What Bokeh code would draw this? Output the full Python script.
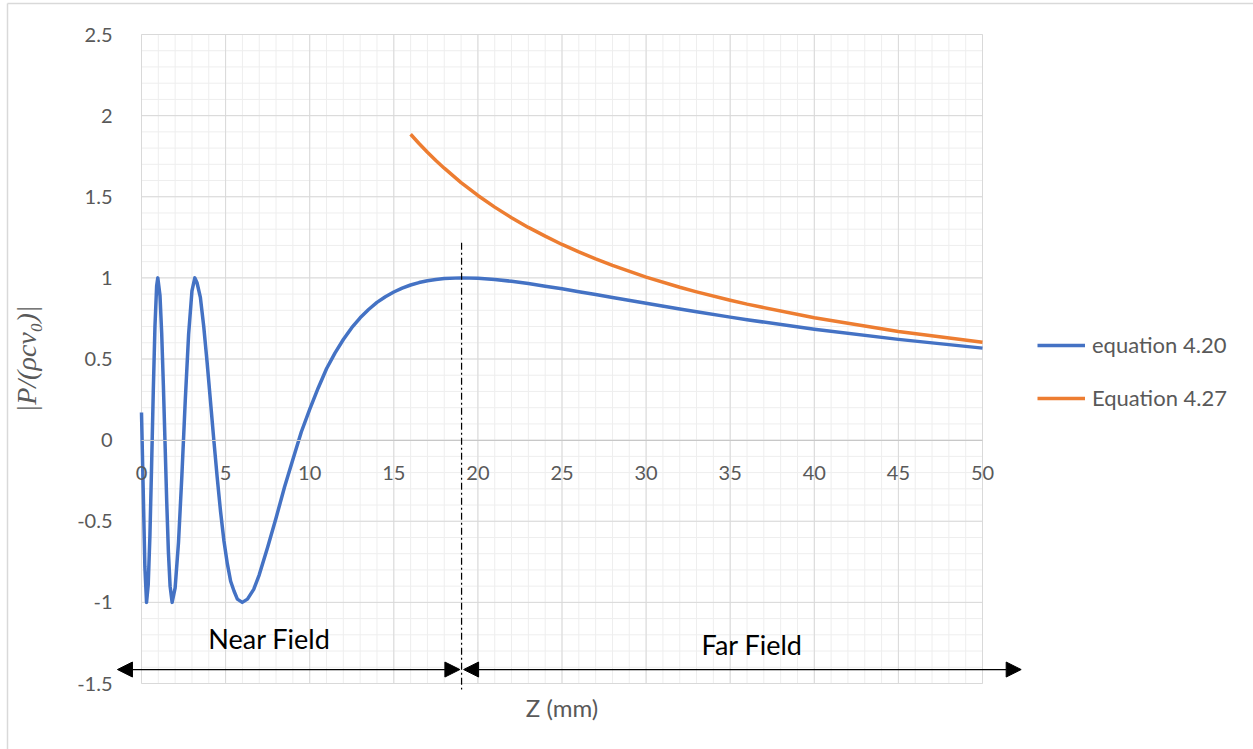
import numpy as np
from bokeh.plotting import figure
from bokeh.models import (SingleIntervalTicker, Legend, LegendItem, Label, Arrow,
                          NormalHead, ColumnDataSource, LinearAxis, Range1d,
                          CustomJSTickFormatter)
from bokeh.embed import file_html
from bokeh.resources import INLINE

# ---- data ----
z_eq420 = [0, 0.1, 0.2, 0.3, 0.4, 0.5, 0.6, 0.7, 0.8, 0.9, 0.97, 1.1, 1.2, 1.3, 1.4, 1.5,
           1.6, 1.7, 1.82, 2.0, 2.2, 2.4, 2.6, 2.8, 3.0, 3.17, 3.3, 3.5, 3.7, 3.9, 4.1,
           4.3, 4.5, 4.7, 4.9, 5.1, 5.3, 5.5, 5.7, 5.99, 6.3, 6.67, 7.0, 7.5, 8.0, 8.5,
           9.0, 9.5, 10, 10.5, 11, 11.5, 12, 12.5, 13, 13.5, 14, 14.5, 15, 15.5, 16,
           16.5, 17, 17.5, 18, 19, 20, 21, 22, 23, 24, 25, 26, 27, 28, 30, 32, 33, 35,
           36, 40, 45, 50]
p_eq420 = [0.17, -0.30, -0.78, -1.0, -0.89, -0.59, -0.16, 0.30, 0.70, 0.95, 1.0, 0.89,
           0.66, 0.34, -0.02, -0.38, -0.69, -0.90, -1.0, -0.91, -0.63, -0.22, 0.24, 0.65,
           0.92, 1.0, 0.97, 0.88, 0.70, 0.48, 0.24, 0.0, -0.23, -0.44, -0.62, -0.76,
           -0.87, -0.93, -0.98, -1.0, -0.98, -0.92, -0.83, -0.66, -0.48, -0.29, -0.12,
           0.05, 0.19, 0.32, 0.44, 0.536, 0.62, 0.693, 0.754, 0.805, 0.849, 0.884, 0.913,
           0.937, 0.956, 0.971, 0.982, 0.990, 0.996, 1.0, 0.997, 0.990, 0.979, 0.965,
           0.949, 0.933, 0.915, 0.897, 0.879, 0.843, 0.808, 0.791, 0.758, 0.742, 0.684,
           0.621, 0.567]

z_eq427 = [16, 16.5, 17, 17.5, 18, 19, 20, 21, 22, 23, 24, 25, 26, 27, 28, 30, 32, 33,
           35, 36, 40, 45, 50]
p_eq427 = [1.885, 1.828, 1.774, 1.723, 1.676, 1.587, 1.508, 1.436, 1.371, 1.311, 1.257,
           1.206, 1.160, 1.117, 1.077, 1.005, 0.942, 0.914, 0.862, 0.838, 0.754, 0.670,
           0.603]

series_names = ["equation 4.20", "Equation 4.27"]
x_title = "Z (mm)"
y_title = "|P/(ρcv₀)|"
near_label = "Near Field"
far_label = "Far Field"

# axis extents and tick steps
x_min, x_max, x_major, x_minor = 0, 50, 5, 1
y_min, y_max, y_major, y_minor = -1.5, 2.5, 0.5, 0.1

# annotation positions (data units)
z_boundary = 19.03
arrow_y = -1.414
near_left = -1.43
far_right = 52.3

FONT = "Lato"
TICK_COLOR = "#595959"
W, H = 1253, 749
# pixel placement of the plotting area inside the canvas
FL, FR, FT, FB = 141, 982, 34, 683
sx = (FR - FL) / (x_max - x_min)
sy = (FB - FT) / (y_max - y_min)
x_lo = x_min - FL / sx
x_hi = x_max + (W - FR) / sx
y_lo = y_min - (H - FB) / sy
y_hi = y_max + FT / sy

p = figure(width=W, height=H,
           x_range=Range1d(x_lo, x_hi), y_range=Range1d(y_lo, y_hi),
           output_backend="svg", toolbar_location=None,
           x_axis_location=None, y_axis_location=None,
           min_border=0)
p.background_fill_color = "white"
p.border_fill_color = "white"
p.outline_line_color = None
p.xgrid.visible = False
p.ygrid.visible = False

# chart-area border (left and top edges visible in the reference)
bx = x_lo + 7 / sx
by = y_hi - 3 / sy
p.segment(x0=[bx, bx], x1=[bx, x_hi], y0=[by, by], y1=[y_lo, by],
          line_color="#d9d9d9", line_width=1.5)

# ---- grid lines, limited to the axis extents ----
xm = np.arange(x_min, x_max + 1e-9, x_minor)
ym = np.arange(y_min, y_max + 1e-9, y_minor)
xM = np.arange(x_min, x_max + 1e-9, x_major)
yM = np.arange(y_min, y_max + 1e-9, y_major)
p.segment(x0=xm, x1=xm, y0=y_min, y1=y_max, line_color="#eeeeee", line_width=1)
p.segment(x0=x_min, x1=x_max, y0=ym, y1=ym, line_color="#eeeeee", line_width=1)
p.segment(x0=xM, x1=xM, y0=y_min, y1=y_max, line_color="#d9d9d9", line_width=1)
p.segment(x0=x_min, x1=x_max, y0=yM, y1=yM, line_color="#d9d9d9", line_width=1)

fmt = CustomJSTickFormatter(code="return String(Math.round(tick*10)/10);")

xaxis = LinearAxis(fixed_location=0, bounds=(x_min, x_max),
                   ticker=SingleIntervalTicker(interval=x_major, num_minor_ticks=0),
                   formatter=fmt)
xaxis.axis_line_color = "#c8c8c8"
xaxis.major_tick_line_color = None
xaxis.minor_tick_line_color = None
xaxis.major_label_standoff = 20
xaxis.major_label_text_font = FONT
xaxis.major_label_text_font_size = "20px"
xaxis.major_label_text_color = TICK_COLOR
p.add_layout(xaxis, "below")

yaxis = LinearAxis(fixed_location=0, bounds=(y_min, y_max),
                   ticker=SingleIntervalTicker(interval=y_major, num_minor_ticks=0),
                   formatter=fmt)
yaxis.axis_line_color = None
yaxis.major_tick_line_color = None
yaxis.minor_tick_line_color = None
yaxis.major_label_standoff = 23
yaxis.major_label_text_font = FONT
yaxis.major_label_text_font_size = "20px"
yaxis.major_label_text_color = TICK_COLOR
yaxis.axis_label = y_title
yaxis.axis_label_text_font = "Liberation Serif"
yaxis.axis_label_text_font_style = "italic"
yaxis.axis_label_text_font_size = "28px"
yaxis.axis_label_text_color = TICK_COLOR
yaxis.axis_label_standoff = 32
p.add_layout(yaxis, "left")

# ---- series ----
src1 = ColumnDataSource(dict(z=z_eq420, p=p_eq420))
src2 = ColumnDataSource(dict(z=z_eq427, p=p_eq427))
r1 = p.line("z", "p", source=src1, line_color="#4472C4", line_width=3.5,
            line_join="round")
r2 = p.line("z", "p", source=src2, line_color="#ED7D31", line_width=3.5,
            line_join="round")

legend = Legend(items=[LegendItem(label=series_names[0], renderers=[r1]),
                       LegendItem(label=series_names[1], renderers=[r2])],
                location=(1037, 338), orientation="vertical")
legend.label_text_font = FONT
legend.label_text_font_size = "22px"
legend.label_text_color = TICK_COLOR
legend.glyph_width = 48
legend.glyph_height = 20
legend.label_height = 20
legend.spacing = 26
legend.padding = 0
legend.margin = 0
legend.label_standoff = 7
legend.border_line_color = None
legend.background_fill_alpha = 0
p.add_layout(legend, "center")

# x axis title below the plotting area
p.add_layout(Label(x=(x_min + x_max) / 2, y=y_min, text=x_title, text_align="center",
                   text_baseline="middle", y_offset=-24, text_font=FONT,
                   text_font_size="24px", text_color=TICK_COLOR))

# ---- near/far field annotations ----
p.add_layout(Arrow(x_start=z_boundary, y_start=1.216, x_end=z_boundary, y_end=-1.537,
                   start=None, end=None, line_color="black", line_width=1.2,
                   line_dash="7 3 2 3"))
p.add_layout(Arrow(x_start=near_left, y_start=arrow_y, x_end=z_boundary - 0.1, y_end=arrow_y,
                   start=NormalHead(size=15, fill_color="black", line_color="black"),
                   end=NormalHead(size=15, fill_color="black", line_color="black"),
                   line_color="black", line_width=1.3))
p.add_layout(Arrow(x_start=z_boundary + 0.12, y_start=arrow_y, x_end=far_right, y_end=arrow_y,
                   start=NormalHead(size=15, fill_color="black", line_color="black"),
                   end=NormalHead(size=15, fill_color="black", line_color="black"),
                   line_color="black", line_width=1.3))
p.add_layout(Label(x=7.6, y=-1.222, text=near_label, text_align="center",
                   text_baseline="middle", text_font=FONT, text_font_size="27px",
                   text_color="black"))
p.add_layout(Label(x=36.3, y=-1.26, text=far_label, text_align="center",
                   text_baseline="middle", text_font=FONT, text_font_size="27px",
                   text_color="black"))

open("out.html", "w").write(file_html(p, INLINE))
